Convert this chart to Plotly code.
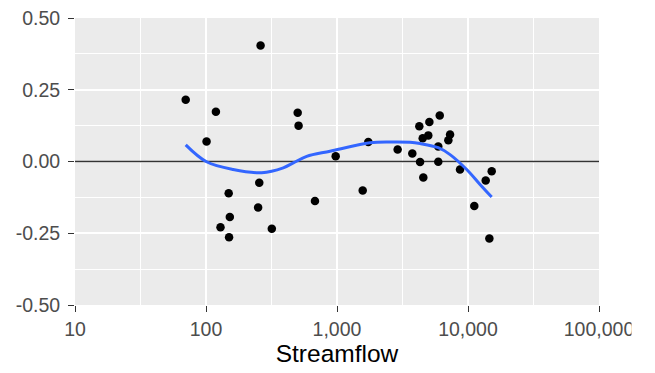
import plotly.graph_objects as go

# Scatter data (streamflow vs residual)
flow = [70, 101, 119, 129, 149, 150, 152, 250, 255, 261, 318, 501, 509, 679, 977,
        1571, 1734, 2904, 3758, 4249, 4306, 4510, 4560, 4977, 5070, 5930, 5930,
        6085, 7080, 7296, 8690, 11170, 13650, 14560, 15170]
resid = [0.215, 0.070, 0.173, -0.229, -0.111, -0.264, -0.193, -0.160, -0.074, 0.404,
         -0.234, 0.170, 0.125, -0.138, 0.018, -0.101, 0.068, 0.042, 0.028, 0.123,
         -0.002, 0.081, -0.056, 0.091, 0.138, 0.052, -0.001, 0.160, 0.074, 0.094,
         -0.028, -0.155, -0.066, -0.268, -0.034]

# Smooth (loess) curve
smooth_x = [70, 101, 161, 266, 389, 464, 587, 885, 1786, 2541, 3606, 4305, 5929,
            7295, 9772, 12359, 15170]
smooth_y = [0.058, -0.001, -0.028, -0.039, -0.022, -0.005, 0.018, 0.036, 0.065,
            0.068, 0.067, 0.0625, 0.048, 0.024, -0.028, -0.080, -0.124]

x_ticks = [10, 100, 1000, 10000, 100000]
x_ticklabels = ["10", "100", "1,000", "10,000", "100,000"]
x_minor = [10 ** 1.5, 10 ** 2.5, 10 ** 3.5, 10 ** 4.5]
y_ticks = [-0.5, -0.25, 0, 0.25, 0.5]
y_ticklabels = ["-0.50", "-0.25", "0.00", "0.25", "0.50"]
y_minor = [-0.375, -0.125, 0.125, 0.375]

fig = go.Figure()
fig.add_trace(go.Scatter(x=[10, 100000], y=[0, 0], mode="lines",
                         line=dict(color="#333333", width=1.6), hoverinfo="skip"))
fig.add_trace(go.Scatter(x=flow, y=resid, mode="markers",
                         marker=dict(color="black", size=8.5, line=dict(width=0))))
fig.add_trace(go.Scatter(x=smooth_x, y=smooth_y, mode="lines", line_shape="spline",
                         line=dict(color="#3366FF", width=3)))

# The original image is cropped on the right, cutting the last tick label
fig.add_shape(type="rect", xref="paper", yref="paper",
              x0=(631.5 - 75) / 524, x1=(655 - 75) / 524, y0=-0.3, y1=-0.03,
              fillcolor="white", line=dict(width=0), layer="above")

font = "Liberation Sans, Arial, sans-serif"
fig.update_layout(
    width=655, height=373,
    margin=dict(l=75, r=56, t=18, b=68),
    paper_bgcolor="white", plot_bgcolor="#EBEBEB",
    showlegend=False,
    font=dict(family=font, size=19.5, color="#4D4D4D"),
)
fig.update_xaxes(
    type="log", range=[1, 5], automargin=False,
    tickmode="array", tickvals=x_ticks, ticktext=x_ticklabels,
    ticks="outside", ticklen=6, tickwidth=1.3, tickcolor="#333333",
    ticklabelstandoff=1, ticklabeloverflow="allow",
    showgrid=True, gridcolor="white", gridwidth=1.8,
    minor=dict(tickmode="array", tickvals=x_minor, showgrid=True,
               gridcolor="white", gridwidth=0.9, ticks=""),
    zeroline=False, showline=False,
    tickfont=dict(size=19.5, color="#4D4D4D"),
    title=dict(text="Streamflow", font=dict(size=24.5, color="black"), standoff=4),
)
fig.update_yaxes(
    range=[-0.5, 0.5], automargin=False,
    tickmode="array", tickvals=y_ticks, ticktext=y_ticklabels,
    ticks="outside", ticklen=6, tickwidth=1.3, tickcolor="#333333",
    ticklabelstandoff=4, ticklabeloverflow="allow",
    showgrid=True, gridcolor="white", gridwidth=1.8,
    minor=dict(tickmode="array", tickvals=y_minor, showgrid=True,
               gridcolor="white", gridwidth=0.9, ticks=""),
    zeroline=False, showline=False,
    tickfont=dict(size=19.5, color="#4D4D4D"),
)

fig.write_html("out.html")
